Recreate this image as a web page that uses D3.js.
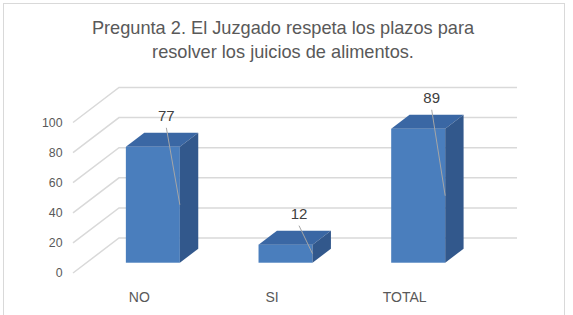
<!DOCTYPE html>
<html>
<head>
<meta charset="utf-8">
<script src="https://cdn.jsdelivr.net/npm/d3@7"></script>
<style>
  body { margin: 0; background: #ffffff; }
  svg { display: block; font-family: "Liberation Sans", Arial, sans-serif; }
</style>
</head>
<body>
<div id="vis"></div>
<script>
// chart data
var titleLines = ['Pregunta 2. El Juzgado respeta los plazos para', 'resolver los juicios de alimentos.'];
var categories = ['NO', 'SI', 'TOTAL'];
var values = [77, 12, 89];
var yTicks = [0, 20, 40, 60, 80, 100];

var width = 573;
var height = 315;

// oblique 3d projection: full floor depth goes (depthX, depthY)
var depthX = 46;
var depthY = -35;
// bar sits between these depth fractions
var barFront = 0.294;
var barBack = 0.694;

var svg = d3.select('#vis').append('svg')
  .attr('width', width)
  .attr('height', height);

// chart border
svg.append('rect')
  .attr('x', 3.5).attr('y', 3.5)
  .attr('width', 561).attr('height', 320)
  .attr('fill', '#fff')
  .attr('stroke', '#d9d9d9')
  .attr('stroke-width', 1);

// title
svg.append('g').selectAll('text')
  .data(titleLines)
  .enter().append('text')
  .attr('x', 283)
  .attr('y', function (d, i) { return 34 + i * 24; })
  .attr('text-anchor', 'middle')
  .attr('fill', '#595959')
  .style('font-size', '18.2px')
  .text(function (d) { return d; });

// scales on the front plane of the floor
var x = d3.scaleBand()
  .domain(categories)
  .range([73, 471])
  .paddingInner(0.593)
  .paddingOuter(0.2965);

var y = d3.scaleLinear()
  .domain([0, 100])
  .range([273, 122.5]);

// gridlines: diagonal on the side wall, then across the back wall
var grid = svg.append('g').attr('class', 'grid');
grid.selectAll('path')
  .data(yTicks)
  .enter().append('path')
  .attr('d', function (d) {
    var y0 = y(d);
    return 'M73,' + y0 + 'L' + (73 + depthX) + ',' + (y0 + depthY) + 'L517,' + (y0 + depthY);
  })
  .attr('fill', 'none')
  .attr('stroke', '#d9d9d9')
  .attr('stroke-width', 1.5);

// y axis labels
svg.append('g').selectAll('text')
  .data(yTicks)
  .enter().append('text')
  .attr('x', 62.5)
  .attr('y', function (d) { return y(d); })
  .attr('dy', '0.36em')
  .attr('text-anchor', 'end')
  .attr('fill', '#595959')
  .style('font-size', '12.3px')
  .text(function (d) { return d; });

// category labels
svg.append('g').selectAll('text')
  .data(categories)
  .enter().append('text')
  .attr('x', function (d) { return x(d) + x.bandwidth() / 2; })
  .attr('y', 302)
  .attr('text-anchor', 'middle')
  .attr('fill', '#595959')
  .style('font-size', '14px')
  .text(function (d) { return d; });

// bars
var dx1 = barFront * depthX, dy1 = barFront * depthY;
var ddx = (barBack - barFront) * depthX, ddy = (barBack - barFront) * depthY;

var bars = svg.append('g').selectAll('g')
  .data(values)
  .enter().append('g');

function box(d, i) {
  var x0 = x(categories[i]) + dx1;
  var x1 = x0 + x.bandwidth();
  var yb = y(0) + dy1;
  var yt = y(d) + dy1;
  return { x0: x0, x1: x1, yb: yb, yt: yt };
}

// front face
bars.append('rect')
  .attr('x', function (d, i) { return box(d, i).x0; })
  .attr('y', function (d, i) { return box(d, i).yt; })
  .attr('width', x.bandwidth())
  .attr('height', function (d, i) { var b = box(d, i); return b.yb - b.yt; })
  .attr('fill', '#4a7ebd');

// top face
bars.append('path')
  .attr('d', function (d, i) {
    var b = box(d, i);
    return 'M' + b.x0 + ',' + b.yt + 'L' + b.x1 + ',' + b.yt +
      'L' + (b.x1 + ddx) + ',' + (b.yt + ddy) + 'L' + (b.x0 + ddx) + ',' + (b.yt + ddy) + 'Z';
  })
  .attr('fill', '#3a67a4');

// side face
bars.append('path')
  .attr('d', function (d, i) {
    var b = box(d, i);
    return 'M' + b.x1 + ',' + b.yt + 'L' + (b.x1 + ddx) + ',' + (b.yt + ddy) +
      'L' + (b.x1 + ddx) + ',' + (b.yb + ddy) + 'L' + b.x1 + ',' + b.yb + 'Z';
  })
  .attr('fill', '#32588c');

// data labels with leader lines
var labelOffset = 26;
bars.append('line')
  .attr('x1', function (d, i) { return (box(d, i).x0 + box(d, i).x1) / 2 + 13.5; })
  .attr('y1', function (d, i) { return box(d, i).yt - labelOffset + 7; })
  .attr('x2', function (d, i) { return box(d, i).x1; })
  .attr('y2', function (d, i) { var b = box(d, i); return (b.yt + b.yb) / 2; })
  .attr('stroke', '#a6a6a6')
  .attr('stroke-width', 1);

bars.append('text')
  .attr('x', function (d, i) { return (box(d, i).x0 + box(d, i).x1) / 2 + 13.5; })
  .attr('y', function (d, i) { return box(d, i).yt - labelOffset; })
  .attr('text-anchor', 'middle')
  .attr('fill', '#404040')
  .style('font-size', '15px')
  .text(function (d) { return d; });
</script>
</body>
</html>
